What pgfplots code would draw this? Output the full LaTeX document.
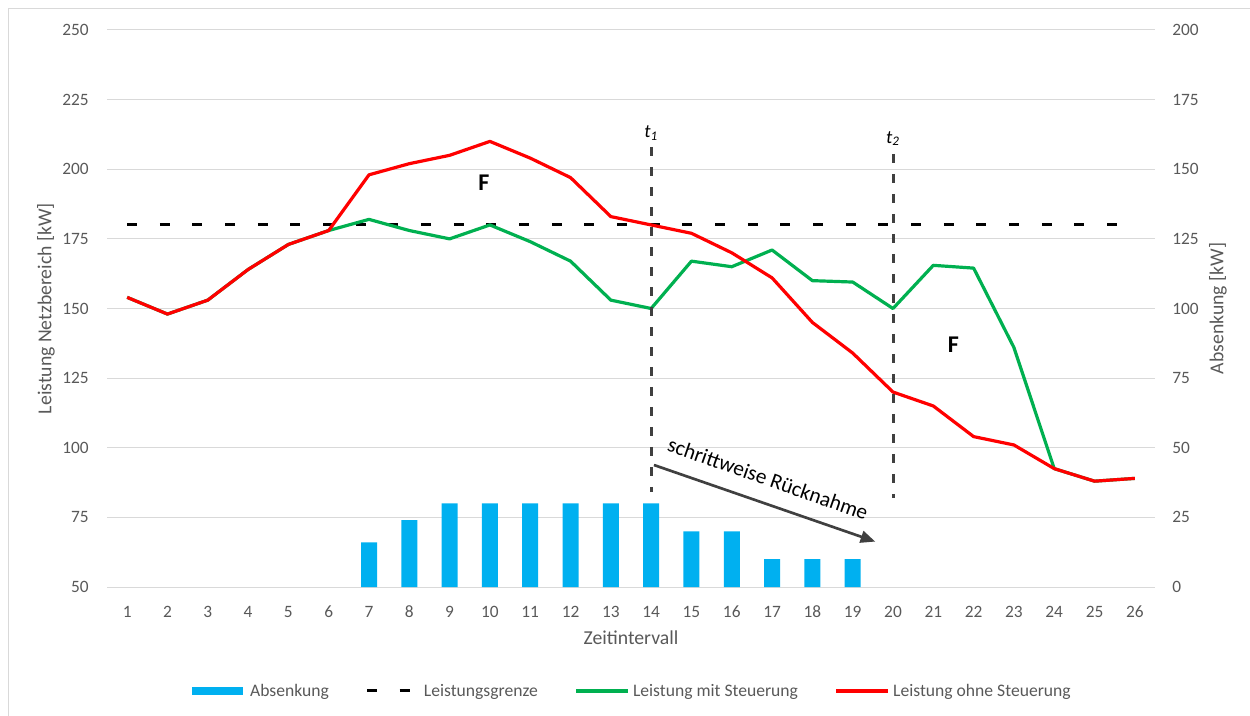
\documentclass[border=0pt]{standalone}
\usepackage{fontspec}
\setmainfont{Carlito}
\usepackage{pgfplots}
\pgfplotsset{compat=1.18}
\usetikzlibrary{arrows.meta}
\definecolor{barblue}{HTML}{00B0F0}
\definecolor{linegreen}{HTML}{00B050}
\definecolor{linered}{HTML}{FF0000}
\definecolor{gridgray}{HTML}{D9D9D9}
\definecolor{tickgray}{HTML}{595959}
\definecolor{darkline}{HTML}{404040}
\begin{document}
\begin{tikzpicture}
\path[use as bounding box] (0,0) rectangle (937.5pt,536.25pt);
\draw[gridgray, line width=0.75pt] (6pt,-5pt) -- (6pt,529.5pt) -- (945pt,529.5pt);

\pgfplotsset{common/.style={
  scale only axis, width=786pt, height=417.75pt,
  at={(80.25pt,96pt)}, anchor=south west,
  xmin=0.5, xmax=26.5,
  major tick length=0pt,
  axis line style={draw=none},
  tick label style={font=\fontsize{13}{15}\selectfont, text=tickgray},
  label style={font=\fontsize{14.8}{17}\selectfont, text=tickgray},
  /pgf/number format/assume math mode=true}}

% Bars on the right axis
\begin{axis}[common,
  axis y line*=right, axis x line=none,
  ymin=0, ymax=200, ytick={0,25,...,200},
  ymajorgrids, grid style={gridgray, line width=0.75pt},
  yticklabel style={anchor=west, xshift=12.75pt, inner sep=0pt},
  ylabel={Absenkung [kW]},
  ylabel style={at={(axis description cs:1.060,0.5)}, anchor=center},
  ybar, bar width=12pt]
\addplot[fill=barblue, draw=none] coordinates {
 (7,16) (8,24) (9,30) (10,30) (11,30) (12,30) (13,30) (14,30)
 (15,20) (16,20) (17,10) (18,10) (19,10)};
\end{axis}

% Lines on the left axis
\begin{axis}[common,
  axis y line*=left, axis x line*=bottom,
  ymin=50, ymax=250, ytick={50,75,...,250},
  xtick={1,...,26},
  xticklabel style={anchor=center, yshift=-18.75pt, inner sep=0pt},
  yticklabel style={anchor=east, xshift=-13.5pt, inner sep=0pt},
  xlabel={Zeitintervall},
  ylabel={Leistung Netzbereich [kW]},
  xlabel style={at={(axis description cs:0.5,-0.0916)}, anchor=center},
  ylabel style={at={(axis description cs:-0.0582,0.5)}, anchor=center},
  clip=false,
  legend columns=4,
  legend image code/.code={\draw[#1] (0pt,0pt) -- (39pt,0pt);},
  legend style={at={(0.502,-0.1867)}, anchor=center, draw=none, fill=none,
    font=\fontsize{13.2}{15}\selectfont, text=tickgray,
    nodes={inner sep=2.5pt},
    /tikz/every even column/.append style={column sep=25pt}},
  legend cell align=left]
\addlegendimage{legend image code/.code={\path[draw=none, fill=barblue] (0pt,-3pt) rectangle (38pt,3pt); \path[draw=none, fill=none] (0pt,0pt) -- (41pt,0pt);}}
\addlegendentry{Absenkung}
\addplot[black, line width=2.25pt, dash pattern=on 7.5pt off 17pt] coordinates {(1,180) (26,180)};
\addlegendentry{Leistungsgrenze}
\addplot[linegreen, line width=2.4pt, line join=round] coordinates {
 (1,154) (2,148) (3,153) (4,164) (5,173) (6,178) (7,182) (8,178) (9,175) (10,180)
 (11,174) (12,167) (13,153) (14,150) (15,167) (16,165) (17,171) (18,160) (19,159.5) (20,150)
 (21,165.5) (22,164.5) (23,136) (24,92.5) (25,88) (26,89)};
\addlegendentry{Leistung mit Steuerung}
\addplot[linered, line width=2.4pt, line join=round] coordinates {
 (1,154) (2,148) (3,153) (4,164) (5,173) (6,178) (7,198) (8,202) (9,205) (10,210)
 (11,204) (12,197) (13,183) (14,180) (15,177) (16,170) (17,161) (18,145) (19,134) (20,120)
 (21,115) (22,104) (23,101) (24,92.5) (25,88) (26,89)};
\addlegendentry{Leistung ohne Steuerung}
\addplot[darkline, line width=2.25pt, dash pattern=on 6.75pt off 8.25pt, forget plot] coordinates {(14,208) (14,84)};
\addplot[darkline, line width=2.25pt, dash pattern=on 6.75pt off 8.25pt, forget plot] coordinates {(20,205.5) (20,82)};
\node[font=\itshape\fontsize{14}{16}\selectfont] at (axis cs:14,213) {t\textsubscript{1}};
\node[font=\itshape\fontsize{14}{16}\selectfont] at (axis cs:20,211) {t\textsubscript{2}};
\node[font=\bfseries\fontsize{18}{20}\selectfont] at (axis cs:9.85,195.2) {F};
\node[font=\bfseries\fontsize{18}{20}\selectfont] at (axis cs:21.5,136.9) {F};
\draw[darkline, line width=2pt, -{Triangle[length=11pt,width=9pt]}] (axis cs:14.07,93.8) -- (axis cs:19.56,66.3);
\node[rotate=-19.3, font=\fontsize{16}{18}\selectfont] at (axis cs:16.9,88.9) {schrittweise Rücknahme};
\end{axis}
\end{tikzpicture}
\end{document}
